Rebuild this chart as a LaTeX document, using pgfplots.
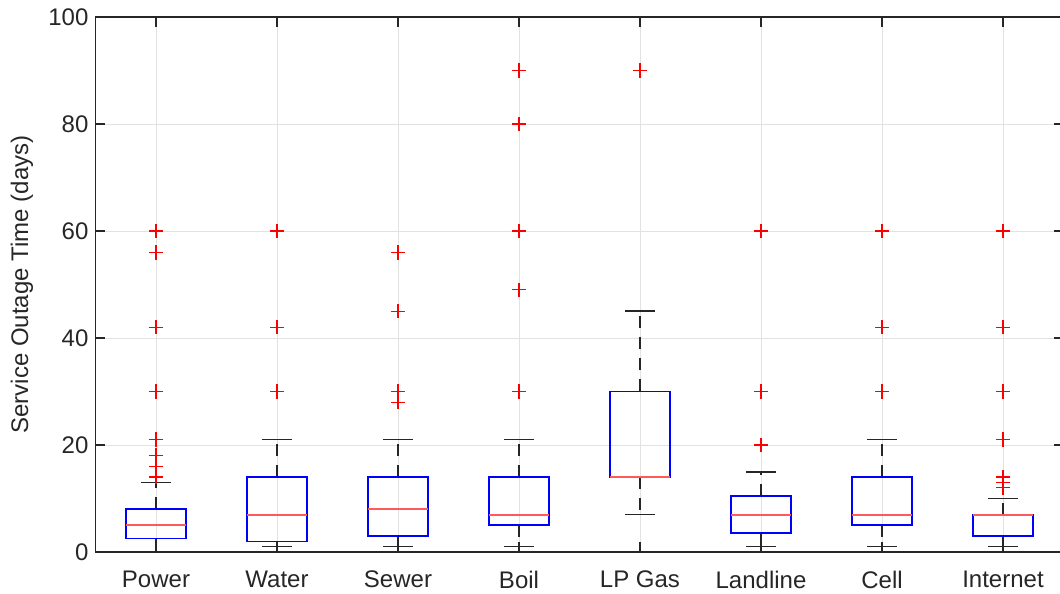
\documentclass[border=0pt]{standalone}
\usepackage{fontspec}
\setmainfont{Liberation Sans}
\usepackage{pgfplots}
\pgfplotsset{compat=1.18}
\usepgfplotslibrary{statistics}
\definecolor{axgray}{RGB}{38,38,38}
\definecolor{gridgray}{RGB}{226,226,226}
\pgfplotsset{
  mybox/.style={
    black, line width=0.8pt,
    mark=+, mark size=3.6pt,
    mark options={red, solid, line width=0.6pt},
    boxplot/draw direction=y,
    boxplot/box extend=0.5,
    boxplot/whisker extend=0.25,
    boxplot/every box/.style={draw=blue, line width=0.8pt},
    boxplot/every median/.style={draw={rgb,1:red,1;green,0.35;blue,0.35}, line width=1pt},
    boxplot/every whisker/.style={draw=axgray, line width=0.8pt},
    boxplot/draw/lower whisker/.code={%
      \draw[/pgfplots/boxplot/every whisker/.try, dash pattern=on 6pt off 4.5pt]
        (boxplot box cs:\pgfplotsboxplotvalue{lower quartile},0.5) --
        (boxplot box cs:\pgfplotsboxplotvalue{lower whisker},0.5);
      \draw[/pgfplots/boxplot/every whisker/.try]
        (boxplot whisker cs:\pgfplotsboxplotvalue{lower whisker},0) --
        (boxplot whisker cs:\pgfplotsboxplotvalue{lower whisker},1);
    },
    boxplot/draw/upper whisker/.code={%
      \draw[/pgfplots/boxplot/every whisker/.try, dash pattern=on 6pt off 4.5pt]
        (boxplot box cs:\pgfplotsboxplotvalue{upper quartile},0.5) --
        (boxplot box cs:\pgfplotsboxplotvalue{upper whisker},0.5);
      \draw[/pgfplots/boxplot/every whisker/.try]
        (boxplot whisker cs:\pgfplotsboxplotvalue{upper whisker},0) --
        (boxplot whisker cs:\pgfplotsboxplotvalue{upper whisker},1);
    },
  },
}
\begin{document}
\begin{tikzpicture}
\begin{axis}[
  width=484pt, height=267.5pt, scale only axis,
  xmin=0.5, xmax=8.5, ymin=0, ymax=100,
  xtick={1,2,3,4,5,6,7,8},
  xticklabels={Power,Water,Sewer,Boil,LP Gas,Landline,Cell,Internet},
  ytick={0,20,40,60,80,100},
  grid=major,
  major grid style={gridgray, line width=0.45pt},
  tick align=inside, major tick length=5pt,
  axis line style={axgray, line width=0.6pt},
  tick style={axgray, line width=0.6pt},
  tick label style={font=\fontsize{12}{14}\selectfont, text=axgray},
  xticklabel style={yshift=-6pt},
  /pgf/number format/assume math mode=true,
  ylabel={Service Outage Time (days)},
  every axis y label/.style={at={(axis description cs:-0.076,0.5)}, rotate=90, anchor=center,
    font=\fontsize{12}{14}\selectfont, text=axgray},
]
\addplot[mybox, boxplot prepared={draw position=1, lower whisker=0, lower quartile=2.5, median=5, upper quartile=8, upper whisker=13}]
  coordinates {(0,60) (0,56) (0,42) (0,30) (0,21) (0,18) (0,16) (0,14)};
\addplot[mybox, boxplot prepared={draw position=2, lower whisker=1, lower quartile=2, median=7, upper quartile=14, upper whisker=21}]
  coordinates {(0,60) (0,42) (0,30)};
\addplot[mybox, boxplot prepared={draw position=3, lower whisker=1, lower quartile=3, median=8, upper quartile=14, upper whisker=21}]
  coordinates {(0,56) (0,45) (0,30) (0,28)};
\addplot[mybox, boxplot prepared={draw position=4, lower whisker=1, lower quartile=5, median=7, upper quartile=14, upper whisker=21}]
  coordinates {(0,90) (0,80) (0,60) (0,49) (0,30)};
\addplot[mybox, boxplot prepared={draw position=5, lower whisker=7, lower quartile=14, median=14, upper quartile=30, upper whisker=45}]
  coordinates {(0,90)};
\addplot[mybox, boxplot prepared={draw position=6, lower whisker=1, lower quartile=3.5, median=7, upper quartile=10.5, upper whisker=15}]
  coordinates {(0,60) (0,30) (0,20)};
\addplot[mybox, boxplot prepared={draw position=7, lower whisker=1, lower quartile=5, median=7, upper quartile=14, upper whisker=21}]
  coordinates {(0,60) (0,42) (0,30)};
\addplot[mybox, boxplot prepared={draw position=8, lower whisker=1, lower quartile=3, median=7, upper quartile=7, upper whisker=10}]
  coordinates {(0,60) (0,42) (0,30) (0,21) (0,14) (0,13) (0,12)};
\end{axis}
\pgfresetboundingbox
\path ([shift={(-47.75pt,-21pt)}]current axis.south west) rectangle ([shift={(-1.75pt,8.5pt)}]current axis.north east);
\end{tikzpicture}
\end{document}
